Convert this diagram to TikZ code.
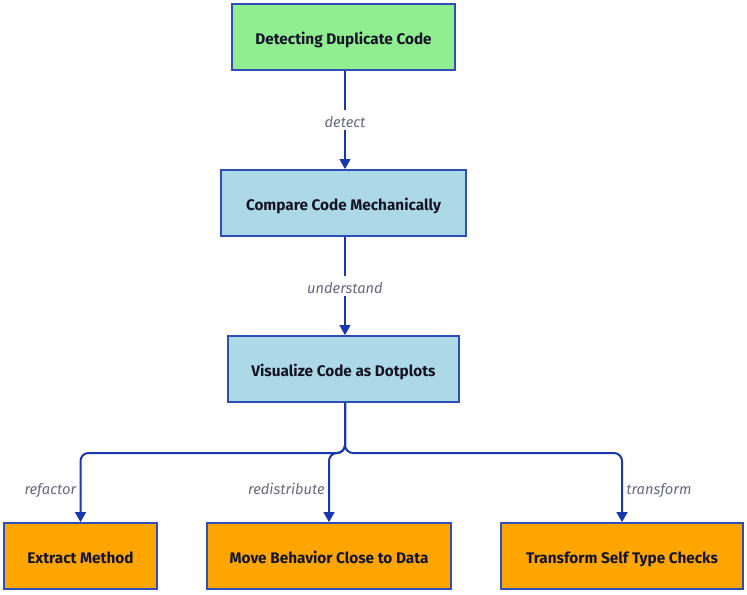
\documentclass[tikz,border=0pt]{standalone}
\usepackage{fontspec}
\setmainfont{Fira Sans}
\usetikzlibrary{arrows.meta}
\definecolor{edgeblue}{HTML}{1A37B0}
\definecolor{boxline}{HTML}{2F4FB8}
\definecolor{inkdark}{HTML}{141428}
\definecolor{labgrey}{HTML}{6A6A7E}
\definecolor{startgreen}{HTML}{90EE90}
\definecolor{steplblue}{HTML}{ADD8E6}
\definecolor{leaforange}{HTML}{FFA500}
\tikzset{
  box/.style={draw=boxline, line width=1.2pt, minimum height=49.5pt, inner sep=0pt,
    text height=11.5pt, text depth=0pt,
    text=inkdark, font=\bfseries\fontsize{11.5}{13}\selectfont},
  flow/.style={draw=edgeblue, line width=1.5pt, -{Triangle[length=7.5pt,width=8pt]}},
  lab/.style={text=labgrey, font=\itshape\fontsize{11}{13}\selectfont, inner sep=2.5pt,
    text height=10.5pt, text depth=0pt}
}
\begin{document}
\begin{tikzpicture}[x=0.75pt,y=0.75pt,yscale=-1,xscale=1]
    \useasboundingbox (0,0) rectangle (747,594);

    % Boxes
    \node [box, fill=startgreen, minimum width=167.25pt] (detecting) at (343.5,37) {Detecting Duplicate Code};
    \node [box, fill=steplblue, minimum width=183.75pt] (compare) at (343.5,203) {Compare Code Mechanically};
    \node [box, fill=steplblue, minimum width=173.25pt] (visualize) at (343.5,369) {Visualize Code as Dotplots};
    \node [box, fill=leaforange, minimum width=114.75pt] (extract) at (80.5,556) {Extract Method};
    \node [box, fill=leaforange, minimum width=183pt] (move) at (329,556) {Move Behavior Close to Data};
    \node [box, fill=leaforange, minimum width=181.5pt] (transform) at (622,556) {Transform Self Type Checks};

    % Split point under the third box
    \coordinate (split) at (345,453);

    % Arrows
    \draw [flow] (detecting.south -| split) -- node [lab, fill=white] {detect} (compare.north -| split);
    \draw [flow] (compare.south -| split) -- node [lab, fill=white] {understand} (visualize.north -| split);
    \draw [flow, rounded corners=6] (visualize.south -| split) -- (split) -| node [lab, pos=0.75, left] {refactor} (extract.north);
    \draw [flow, rounded corners=6] (visualize.south -| split) -- (split) -| node [lab, pos=0.75, left] {redistribute} (move.north);
    \draw [flow, rounded corners=6] (visualize.south -| split) -- (split) -| node [lab, pos=0.75, right] {transform} (transform.north);

\end{tikzpicture}
\end{document}
